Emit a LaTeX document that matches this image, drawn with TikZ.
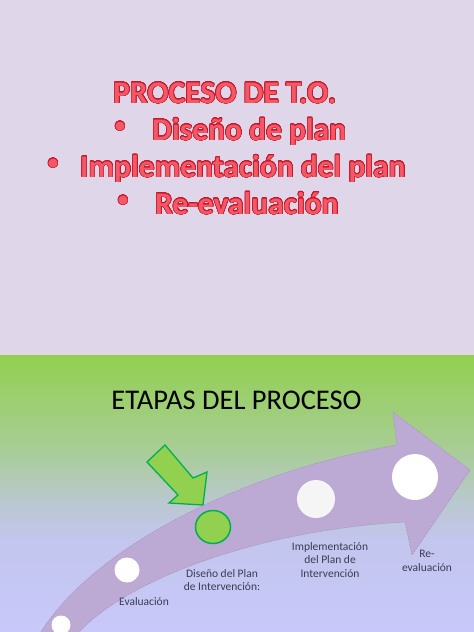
\documentclass[tikz,border=0pt]{standalone}
\usepackage{fontspec}
\setmainfont{Carlito}
\usepackage{contour}
\usetikzlibrary{shapes.geometric}
\contourlength{0.6pt}
\contournumber{24}
\definecolor{topbg}{RGB}{223,214,233}
\definecolor{grnA}{RGB}{146,208,80}
\definecolor{grnB}{RGB}{168,205,150}
\definecolor{grnC}{RGB}{185,200,205}
\definecolor{lavA}{RGB}{195,198,238}
\definecolor{lavB}{RGB}{200,200,250}
\definecolor{redfill}{RGB}{242,88,102}
\definecolor{redline}{RGB}{200,22,42}
\definecolor{purp}{RGB}{188,170,212}
\definecolor{purpedge}{RGB}{165,150,190}
\definecolor{gfill}{RGB}{146,208,80}
\definecolor{gline}{RGB}{0,176,80}
\definecolor{lbl}{RGB}{60,60,80}
\pgfdeclareverticalshading{bgshade}{100bp}{color(0bp)=(lavB); color(25bp)=(lavB); color(41.6bp)=(lavA); color(48.8bp)=(grnC); color(57.9bp)=(grnB); color(75bp)=(grnA); color(100bp)=(grnA)}
\tikzset{
  title/.style={inner sep=0pt, anchor=base west, text=redfill, font=\bfseries\fontsize{31.5}{37}\selectfont},
  bul/.style={inner sep=0pt, anchor=base, text=redfill, font=\bfseries\fontsize{21}{25}\selectfont},
  lab/.style={inner sep=0pt, align=center, text=lbl, font=\fontsize{11.5}{13.5}\selectfont},
  dot/.style={circle, fill=white, draw=none, inner sep=0pt},
}
\begin{document}
\begin{tikzpicture}[x=1pt,y=-1pt]
\useasboundingbox (0,0) rectangle (474,632);
% backgrounds
\fill[topbg] (0,0) rectangle (474,355);
\shade[shading=bgshade] (0,355) rectangle (474,632);
% title text
\node[title] (t1) at (113,103) {\contour{redline}{PROCESO DE T.O.}};
\node[bul] (b2) at (120,132) {\contour{redline}{•}};
\node[title] (t2) at (152,140) {\contour{redline}{Diseño de plan}};
\node[bul] (b3) at (53,169) {\contour{redline}{•}};
\node[title] (t3) at (80,177) {\contour{redline}{Implementación del plan}};
\node[bul] (b4) at (123,206) {\contour{redline}{•}};
\node[title] (t4) at (155,214) {\contour{redline}{Re-evaluación}};
% heading
\node[inner sep=0pt, anchor=base, font=\fontsize{28.5}{34}\selectfont] (etapas) at (236.5,409) {ETAPAS DEL PROCESO};
% curved arrow
\begin{scope}
\clip (0,0) rectangle (474,632);
\fill[purp] (36,640) .. controls (90,545) and (250,470) .. (397,445) -- (393,412) -- (470,470) -- (412,555) -- (405,522) .. controls (260,530) and (120,580) .. (72,640) -- cycle;
\draw[purpedge, line width=0.5pt, dash pattern=on 2pt off 1pt] (36,640) .. controls (90,545) and (250,470) .. (397,445) -- (393,412) -- (470,470) -- (412,555) -- (405,522) .. controls (260,530) and (120,580) .. (72,640);
\node[dot, minimum size=19pt] (c1) at (61,625) {};
\end{scope}
\node[dot, minimum size=25pt] (c2) at (127,570) {};
\node[ellipse, fill=gfill, draw=gline, line width=1.5pt, minimum width=35pt, minimum height=33pt, inner sep=0pt] (c3) at (213,527) {};
\node[dot, fill={rgb,255:red,245;green,245;blue,245}, minimum size=38pt] (c4) at (316,499) {};
\node[dot, minimum size=46pt] (c5) at (415,477) {};
% green pointer arrow
\fill[gfill, draw=gline, line width=1.3pt, line join=miter] (147,462) -- (165,445) -- (193,478) -- (207,472) -- (203,505) -- (169,503) -- (178,495) -- cycle;
% labels
\node[lab] (l1) at (144,602) {Evaluación};
\node[lab] (l2) at (222,580) {Diseño del Plan\\de Intervención:};
\node[lab] (l3) at (330,560) {Implementación\\del Plan de\\Intervención};
\node[lab] (l4) at (427,561) {Re-\\evaluación};
\end{tikzpicture}
\end{document}
